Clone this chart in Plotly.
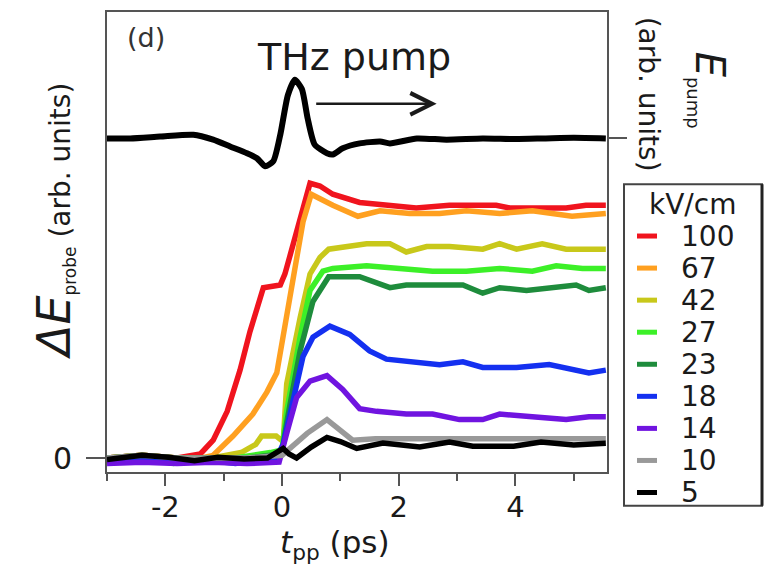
import plotly.graph_objects as go

# ---------------- data ----------------
field_labels = ["100", "67", "42", "27", "23", "18", "14", "10", "5"]
field_colors = ["#f0141e", "#ffa020", "#c8c81a", "#3cf028", "#1e8c3c",
                "#1430f0", "#7014e0", "#999999", "#000000"]

t_100 = [-3.0, -2.4, -1.8, -1.4, -1.18, -0.94, -0.72, -0.55, -0.32, -0.03, 0.05, 0.25, 0.48, 0.65, 0.87, 1.33, 1.73, 2.3, 2.87, 3.27, 3.67, 3.9, 4.41, 4.87, 5.21, 5.55]
e_100 = [0.0, 0.01, 0.0, 0.015, 0.065, 0.17, 0.32, 0.46, 0.62, 0.63, 0.67, 0.83, 1.0, 0.99, 0.96, 0.93, 0.92, 0.91, 0.92, 0.92, 0.92, 0.91, 0.91, 0.91, 0.92, 0.92]

t_67 = [-3.0, -2.4, -1.8, -1.4, -1.18, -0.84, -0.5, -0.26, -0.09, 0.02, 0.19, 0.36, 0.5, 0.87, 1.3, 1.68, 2.19, 2.7, 3.16, 3.73, 4.29, 4.97, 5.55]
e_67 = [0.0, 0.01, 0.0, 0.0, 0.01, 0.08, 0.16, 0.24, 0.31, 0.44, 0.66, 0.86, 0.96, 0.92, 0.88, 0.90, 0.89, 0.89, 0.90, 0.89, 0.90, 0.88, 0.89]

t_42 = [-3.0, -2.4, -1.8, -1.2, -0.7, -0.45, -0.35, -0.1, 0.02, 0.08, 0.31, 0.48, 0.65, 0.8, 1.45, 1.85, 2.13, 2.48, 2.87, 3.44, 3.73, 4.02, 4.46, 4.87, 5.55]
e_42 = [0.0, 0.01, 0.0, 0.0, 0.02, 0.05, 0.08, 0.08, 0.06, 0.27, 0.51, 0.67, 0.73, 0.76, 0.78, 0.78, 0.75, 0.77, 0.77, 0.76, 0.78, 0.76, 0.78, 0.76, 0.76]

t_27 = [-3.0, -2.4, -1.86, -1.4, -0.8, -0.4, -0.2, 0.0, 0.08, 0.31, 0.48, 0.7, 0.87, 1.45, 2.02, 2.58, 3.16, 3.73, 4.29, 4.7, 5.15, 5.55]
e_27 = [0.0, 0.0, -0.02, 0.0, 0.0, 0.01, 0.02, 0.03, 0.17, 0.44, 0.61, 0.68, 0.69, 0.70, 0.69, 0.68, 0.68, 0.69, 0.68, 0.70, 0.69, 0.69]

t_23 = [-3.0, -2.4, -1.8, -1.2, -0.6, -0.2, 0.0, 0.08, 0.31, 0.53, 0.8, 1.33, 1.62, 1.85, 2.13, 2.7, 3.1, 3.44, 3.73, 4.19, 4.75, 5.04, 5.26, 5.55]
e_23 = [0.0, 0.01, 0.0, 0.0, 0.0, 0.01, 0.02, 0.13, 0.39, 0.57, 0.66, 0.66, 0.64, 0.62, 0.63, 0.63, 0.63, 0.60, 0.62, 0.61, 0.62, 0.63, 0.61, 0.62]

t_18 = [-3.0, -2.4, -1.8, -1.2, -0.8, -0.4, -0.1, 0.02, 0.19, 0.36, 0.53, 0.82, 1.16, 1.5, 1.79, 2.19, 2.7, 3.1, 3.44, 4.02, 4.58, 5.26, 5.55]
e_18 = [-0.01, 0.0, -0.01, -0.01, -0.02, -0.01, 0.0, 0.05, 0.21, 0.37, 0.44, 0.48, 0.45, 0.39, 0.36, 0.35, 0.34, 0.35, 0.33, 0.33, 0.34, 0.31, 0.32]

t_14 = [-3.0, -2.4, -1.8, -1.2, -0.6, -0.05, 0.08, 0.25, 0.48, 0.77, 1.04, 1.33, 1.62, 2.13, 2.58, 3.04, 3.44, 3.73, 4.29, 4.87, 5.26, 5.55]
e_14 = [-0.02, -0.015, -0.02, -0.015, -0.02, -0.015, 0.09, 0.22, 0.28, 0.30, 0.25, 0.18, 0.17, 0.16, 0.16, 0.14, 0.14, 0.16, 0.15, 0.14, 0.15, 0.15]

t_10 = [-3.0, -2.4, -1.8, -1.2, -0.6, 0.0, 0.1, 0.43, 0.77, 0.99, 1.21, 1.6, 2.0, 2.5, 3.0, 3.5, 4.0, 4.5, 5.0, 5.55]
e_10 = [0.0, 0.01, 0.0, 0.0, 0.0, 0.01, 0.03, 0.09, 0.14, 0.10, 0.065, 0.07, 0.07, 0.065, 0.07, 0.07, 0.065, 0.07, 0.07, 0.07]

t_5 = [-3.0, -2.4, -1.95, -1.5, -1.1, -0.65, -0.25, 0.02, 0.12, 0.25, 0.5, 0.77, 1.0, 1.28, 1.73, 2.36, 2.87, 3.27, 3.97, 4.44, 5.0, 5.55]
e_5 = [-0.005, 0.01, 0.003, -0.01, 0.003, -0.003, 0.0, 0.035, 0.015, 0.0, 0.04, 0.075, 0.06, 0.035, 0.055, 0.04, 0.058, 0.043, 0.043, 0.058, 0.048, 0.054]

# THz pump field trace
t_pump = [-3.0, -2.6, -2.09, -1.52, -1.18, -0.89, -0.6, -0.43, -0.29, -0.15, -0.03, 0.1, 0.22, 0.34, 0.44, 0.56, 0.77, 0.87, 1.04, 1.33, 1.68, 1.85, 2.31, 2.82, 3.44, 4.0, 4.5, 5.0, 5.55]
e_pump = [0.0, 0.0, 0.03, 0.06, -0.02, -0.13, -0.24, -0.32, -0.45, -0.37, 0.06, 0.7, 0.95, 0.8, 0.32, -0.10, -0.24, -0.26, -0.16, -0.08, -0.05, -0.08, 0.0, -0.02, 0.0, -0.01, 0.0, 0.01, 0.0]

x_ticks = [-2, 0, 2, 4]
x_minor = [-3, -1, 1, 3, 5]

series_t = [t_100, t_67, t_42, t_27, t_23, t_18, t_14, t_10, t_5]
series_e = [e_100, e_67, e_42, e_27, e_23, e_18, e_14, e_10, e_5]

# ---------------- figure ----------------
FONT = "DejaVu Sans"
W, H = 770, 577
ML, MR, MT, MB = 107, 163, 10, 105
PW, PH = W - ML - MR, H - MT - MB


def px_x(p):
    return (p - ML) / PW


def px_y(p):
    return (H - MB - p) / PH


fig = go.Figure()

for tt, ee, lab, col in zip(series_t, series_e, field_labels, field_colors):
    fig.add_trace(go.Scatter(x=tt, y=ee, mode="lines", name=lab,
                             line=dict(color=col, width=5.5),
                             showlegend=False, yaxis="y"))

fig.add_trace(go.Scatter(x=t_pump, y=e_pump, mode="lines", name="E pump",
                         line=dict(color="#000000", width=6, shape="spline", smoothing=0.6),
                         showlegend=False, yaxis="y2"))

frame = "#555555"
fig.update_layout(
    width=W, height=H,
    margin=dict(l=ML, r=MR, t=MT, b=MB, pad=0),
    paper_bgcolor="white", plot_bgcolor="white",
    font=dict(family=FONT, color="#1a1a1a", size=30),
    xaxis=dict(range=[-3.0, 5.57], tickvals=x_ticks, ticktext=[str(v) for v in x_ticks],
               ticks="outside", ticklen=12, tickwidth=2, tickcolor=frame,
               ticklabelstandoff=-4,
               minor=dict(tickvals=x_minor, ticks="outside", ticklen=7, tickwidth=2, tickcolor=frame),
               showline=True, linecolor=frame, linewidth=2, mirror=True,
               showgrid=False, zeroline=False, tickfont=dict(size=29)),
    yaxis=dict(range=[-0.0507, 1.6232], tickvals=[0], ticktext=["0"],
               ticks="outside", ticklen=19, tickwidth=1.5, tickcolor=frame,
               ticklabelstandoff=8,
               showline=True, linecolor=frame, linewidth=2, mirror=True,
               showgrid=False, zeroline=False, tickfont=dict(size=30)),
    yaxis2=dict(range=[-5.403, 2.048], overlaying="y", side="right", anchor="x",
                tickvals=[0], showticklabels=False, ticks="outside", ticklen=19,
                tickwidth=1.5, tickcolor=frame, showline=False, showgrid=False, zeroline=False),
)


def label(text, x, y, size, angle=0, color="#1a1a1a", xanchor="center"):
    return dict(text=text, x=px_x(x), y=px_y(y), xref="paper", yref="paper",
                xanchor=xanchor, yanchor="middle", textangle=angle,
                showarrow=False, font=dict(size=size, color=color))


ann = []
ann.append(label("(d)", 146, 36, 27, color="#333333"))
ann.append(label("THz pump", 354, 55, 38))
# arrow
ann.append(dict(text="", x=2.65, y=0.56, xref="x", yref="y2",
                ax=0.56, ay=0.56, axref="x", ayref="y2",
                showarrow=True, arrowhead=5, arrowsize=1.7, arrowwidth=2.5,
                arrowcolor="#1a1a1a", standoff=0, startstandoff=0))
# left axis title
ann.append(label('<span style="font-size:46px"><i>ΔE</i></span><sub><span style="font-size:17px">probe</span></sub> (arb. units)',
                 54, 220, 28, angle=-90))
# right axis title
ann.append(label("(arb. units)", 648, 92, 28, angle=90))
ann.append(label('<i>E</i><sub><span style="font-size:18px">pump</span></sub>', 708, 88, 40, angle=90))
# x axis title
ann.append(label("<i>t</i><sub>pp</sub> (ps)", 335, 545, 31))

# manual legend
shapes = []
LX0, LX1, LY0, LY1 = 624, 762, 183, 506
shapes.append(dict(type="rect", xref="paper", yref="paper",
                   x0=px_x(LX0), x1=px_x(LX1), y0=px_y(LY1), y1=px_y(LY0),
                   line=dict(color="#444444", width=2), fillcolor="white"))
shapes.append(dict(type="line", xref="paper", yref="paper",
                   x0=px_x(LX1), x1=px_x(LX1), y0=px_y(LY1), y1=px_y(LY0),
                   line=dict(color="#222222", width=3)))
ann.append(label("kV/cm", 692, 203, 28))
for i, (lab, col) in enumerate(zip(field_labels, field_colors)):
    yy = 235 + 32.2 * i
    shapes.append(dict(type="line", xref="paper", yref="paper",
                       x0=px_x(637), x1=px_x(657), y0=px_y(yy), y1=px_y(yy),
                       line=dict(color=col, width=5)))
    ann.append(label(lab, 679, yy, 28, xanchor="left"))

fig.update_layout(annotations=ann, shapes=shapes)
fig.write_html("out.html")
